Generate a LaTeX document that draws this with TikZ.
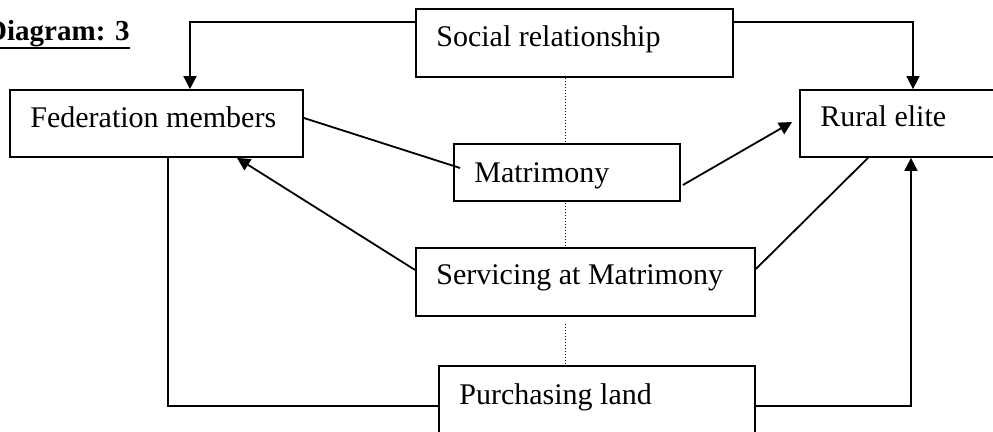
\documentclass[tikz,border=0pt]{standalone}
\usepackage{fontspec}
\setmainfont{Liberation Serif}
\usetikzlibrary{arrows.meta,fit}

\begin{document}
\begin{tikzpicture}[x=0.5pt,y=-0.5pt,
  every node/.style={font=\fontsize{15pt}{18pt}\selectfont},
  box/.style={draw,line width=0.9pt,rectangle,inner sep=0pt},
  lbl/.style={anchor=base west,inner sep=0pt},
  link/.style={line width=0.9pt},
  arr/.style={link,-{Triangle[length=6.5pt,width=6.5pt]}},
  dots/.style={line width=0.5pt,dash pattern=on 0.5pt off 1pt}]
\clip (0,0) rectangle (993,432);
\fill[white] (0,0) rectangle (993,432);

% title
\node[anchor=base east,inner sep=0pt,font=\fontsize{14.5pt}{17pt}\selectfont\bfseries]
  (title) at (130,41) {Diagram: 3};
\draw[line width=1pt] ([yshift=-3.5pt]title.base west) -- ([yshift=-3.5pt]title.base east);

% boxes
\node[box,fit={(10,90) (303,157)}]   (fed)    {};
\node[box,fit={(416,9) (733,77)}]    (social) {};
\node[box,fit={(800,90) (1000,157)}] (rural)  {};
\node[box,fit={(454,144) (680,201)}] (mat)    {};
\node[box,fit={(416,248) (755,316)}] (serv)   {};
\node[box,fit={(439,366) (755,450)}] (purch)  {};

% box texts
\node[lbl] (fedlbl)    at (30,128)  {Federation members};
\node[lbl] (sociallbl) at (436,47)  {Social relationship};
\node[lbl] (rurallbl)  at (820,127) {Rural elite};
\node[lbl] (matlbl)    at (474,183) {Matrimony};
\node[lbl] (servlbl)   at (436,285) {Servicing at Matrimony};
\node[lbl] (purchlbl)  at (459,405) {Purchasing land};

% connectors from the top box
\draw[arr] ([yshift=10.5pt]social.west) -| ([xshift=16.75pt]fed.north);
\draw[arr] ([yshift=10.5pt]social.east) -| ([xshift=6.5pt]rural.north);

% dotted spine
\draw[dots] ([xshift=-4.75pt]social.south) -- ([xshift=-4.75pt]social.south |- mat.north);
\draw[dots] ([xshift=-1pt,yshift=-0.5pt]mat.south) -- ([xshift=-1pt]mat.south |- 0,245);
\draw[dots] ([xshift=-10.25pt,yshift=-3.5pt]serv.south) -- ([xshift=-10.25pt]serv.south |- purch.north);

% matrimony links
\draw[link] ([yshift=2.75pt]fed.east) -- ([xshift=3.5pt,yshift=2.25pt]mat.west);
\draw[arr] ([xshift=1pt,yshift=-6.25pt]mat.east) -- ([xshift=-3.5pt,yshift=0.75pt]rural.west);

% servicing links
\draw[arr] ([yshift=6pt]serv.west) -- ([xshift=40.25pt]fed.south);
\draw[link] ([xshift=-16pt]rural.south) -- ([yshift=6.5pt]serv.east);

% purchasing links
\draw[link] ([xshift=5.75pt]fed.south) |- ([yshift=1pt]purch.west);
\draw[arr] ([yshift=1pt]purch.east) -| ([xshift=5.5pt]rural.south);
\end{tikzpicture}
\end{document}
